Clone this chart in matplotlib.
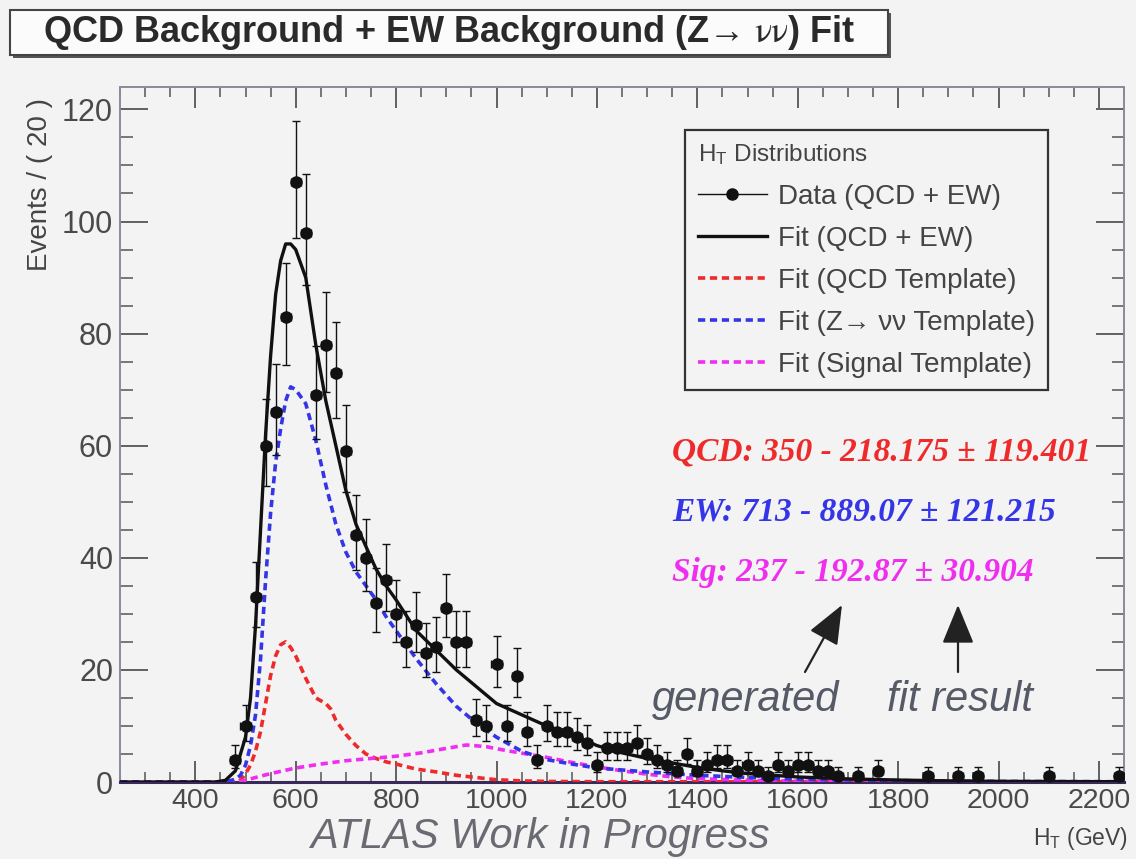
import numpy as np
import matplotlib
matplotlib.use("Agg")
import matplotlib.pyplot as plt
from matplotlib.lines import Line2D
from matplotlib.patches import Rectangle, FancyArrowPatch
from matplotlib.ticker import MultipleLocator

plt.rcParams['font.family'] = ['Liberation Sans', 'DejaVu Sans']
plt.rcParams['mathtext.fontset'] = 'stix'

# ---------------- data ----------------
bin_centers = [480, 500, 520, 540, 560, 580, 600, 620, 640, 660, 680, 700, 720, 740,
               760, 780, 800, 820, 840, 860, 880, 900, 920, 940, 960, 980, 1000, 1020,
               1040, 1060, 1080, 1100, 1120, 1140, 1160, 1180, 1200, 1220, 1240, 1260,
               1280, 1300, 1320, 1340, 1360, 1380, 1400, 1420, 1440, 1460, 1480, 1500,
               1520, 1540, 1560, 1580, 1600, 1620, 1640, 1660, 1680, 1720, 1760, 1860,
               1920, 1960, 2100, 2240]
counts = [4, 10, 33, 60, 66, 83, 107, 98, 69, 78, 73, 59, 44, 40,
          32, 36, 30, 25, 28, 23, 24, 31, 25, 25, 11, 10, 21, 10,
          19, 9, 4, 10, 9, 9, 8, 7, 3, 6, 6, 6,
          7, 5, 4, 3, 2, 5, 2, 3, 4, 4, 2, 3,
          2, 1, 3, 2, 3, 3, 2, 2, 1, 1, 2, 1,
          1, 1, 1, 1]

fit_total_x = [250, 440, 460, 480, 500, 510, 520, 530, 540, 550, 560, 570, 580, 590, 600,
               620, 640, 660, 680, 700, 720, 740, 760, 780, 800, 840, 880, 920, 960, 1000,
               1050, 1100, 1150, 1200, 1250, 1300, 1350, 1400, 1450, 1500, 1600, 1700,
               1800, 1900, 2000, 2250]
fit_total_y = [0, 0, 0.3, 2, 8, 15, 28, 45, 62, 76, 87, 93, 96, 96, 95,
               90, 78, 68, 60, 52, 46, 42, 38, 35, 32.5, 27, 23.5, 20, 17, 14,
               12, 10, 8.5, 6.5, 5.2, 4.2, 3.4, 2.6, 2.0, 1.5, 0.9, 0.55,
               0.35, 0.2, 0.12, 0.05]

fit_ew_x = [250, 460, 480, 490, 500, 510, 520, 530, 540, 550, 560, 570, 580, 590, 600,
            620, 640, 660, 680, 700, 720, 740, 760, 780, 800, 840, 880, 920, 960, 1000,
            1050, 1100, 1150, 1200, 1300, 1400, 1500, 1600, 1800, 2000, 2250]
fit_ew_y = [0, 0, 0.5, 1.2, 3, 6.5, 12, 22, 36, 48, 57, 63, 68, 70.5, 70,
            67.5, 61, 53, 46, 41, 37.5, 35, 32.5, 29.5, 27, 22, 17.5, 13.5, 10.5, 8,
            5.5, 4, 3.2, 2.5, 1.8, 1.2, 0.8, 0.5, 0.25, 0.1, 0.05]

fit_qcd_x = [250, 480, 490, 500, 510, 520, 530, 540, 550, 560, 570, 580, 590, 600, 620,
             640, 660, 670, 680, 700, 720, 740, 760, 780, 800, 840, 880, 920, 960, 1000,
             1050, 1100, 1200, 2250]
fit_qcd_y = [0, 0, 0.3, 1.5, 3, 5.5, 9, 14, 19, 22.5, 24.5, 25, 24, 22.5, 18.5,
             15, 14, 13, 11, 8.5, 6.5, 5, 4.2, 3.6, 3.2, 2.3, 1.8, 1.2, 0.8, 0.4,
             0.2, 0.1, 0.05, 0]

fit_sig_x = [250, 480, 500, 520, 550, 600, 650, 700, 750, 800, 850, 900, 940, 980, 1020,
             1060, 1100, 1150, 1200, 1250, 1300, 1350, 1400, 1500, 1600, 1800, 2250]
fit_sig_y = [0, 0, 0.3, 0.8, 1.5, 2.5, 3.2, 3.8, 4.2, 4.6, 5.2, 6.0, 6.6, 6.3, 5.6,
             5.0, 4.4, 3.5, 2.7, 2.0, 1.4, 0.9, 0.6, 0.3, 0.15, 0.05, 0]

legend_labels = ["Data (QCD + EW)", "Fit (QCD + EW)", "Fit (QCD Template)",
                 "Fit (Z\u2192 \u03bd\u03bd Template)", "Fit (Signal Template)"]
results = [("QCD: 350 - 218.175 \u00b1 119.401", "#ee2a2a"),
           ("EW: 713 - 889.07 \u00b1 121.215", "#3535e8"),
           ("Sig: 237 - 192.87 \u00b1 30.904", "#f02ef0")]

# ---------------- figure ----------------
W, H = 1136, 859
fig = plt.figure(figsize=(W / 100, H / 100), dpi=100)
bg = '#f3f3f3'
fig.patch.set_facecolor(bg)

def fx(x):
    return x / W

def fy(y):
    return 1 - y / H

ax = fig.add_axes([fx(120), fy(782), fx(1124) - fx(120), fy(87) - fy(782)])
ax.set_facecolor(bg)
ax.set_xlim(250, 2250)
ax.set_ylim(0, 124)

red, blue, mag = '#ee2a2a', '#3535e8', '#f02ef0'
dash = (0, (2.0, 1.3))
ax.plot(fit_qcd_x, fit_qcd_y, color=red, lw=2.6, ls=dash, zorder=3)
ax.plot(fit_sig_x, fit_sig_y, color=mag, lw=2.6, ls=dash, zorder=3)
ax.plot(fit_ew_x, fit_ew_y, color=blue, lw=2.6, ls=dash, zorder=3)
ax.plot(fit_total_x, fit_total_y, color='#111111', lw=2.4, zorder=4)

n = np.array(counts, dtype=float)
err_hi = 0.5 + np.sqrt(n + 0.25)
err_lo = -0.5 + np.sqrt(n + 0.25)
ax.errorbar(bin_centers, counts, yerr=[err_lo, err_hi], xerr=10, fmt='o',
            color='#111111', ms=8, elinewidth=1.0, capsize=3, capthick=1.0, zorder=5)

# ticks
ax.xaxis.set_major_locator(MultipleLocator(200))
ax.xaxis.set_minor_locator(MultipleLocator(50))
ax.yaxis.set_major_locator(MultipleLocator(20))
ax.yaxis.set_minor_locator(MultipleLocator(5))
ax.tick_params(which='both', direction='in', top=True, right=True, color='#555555')
ax.tick_params(axis='y', which='major', length=20, width=1.3)
ax.tick_params(axis='y', which='minor', length=9, width=1.1)
ax.tick_params(axis='x', which='major', length=15, width=1.3)
ax.tick_params(axis='x', which='minor', length=7, width=1.1)
ax.tick_params(axis='both', which='major', labelcolor='#4a4a4a')
ax.tick_params(axis='y', which='major', labelsize=22, pad=5)
ax.tick_params(axis='x', which='major', labelsize=20.5, pad=4)
ax.set_xticks([400, 600, 800, 1000, 1200, 1400, 1600, 1800, 2000, 2200])
for s in ax.spines.values():
    s.set_color('#8a8a9a')
    s.set_linewidth(1.4)
ax.spines['bottom'].set_color('#3a2a5a')
ax.spines['bottom'].set_linewidth(2.2)

# legend
handles = [Line2D([], [], color='#111111', marker='o', ms=8, lw=1.0),
           Line2D([], [], color='#111111', lw=2.4),
           Line2D([], [], color=red, lw=2.6, ls=dash),
           Line2D([], [], color=blue, lw=2.6, ls=dash),
           Line2D([], [], color=mag, lw=2.6, ls=dash)]
leg = ax.legend(handles, legend_labels, title=r"$\mathregular{H_T}$ Distributions",
                loc='upper left', bbox_to_anchor=((685 - 120) / 1004, (782 - 130) / 695),
                fontsize=20, title_fontsize=17.5, frameon=True, fancybox=False,
                edgecolor='#333333', facecolor=bg, framealpha=1, handlelength=2.5,
                handletextpad=0.4, labelspacing=0.58, borderpad=0.45, alignment='left',
                borderaxespad=0)
leg.get_frame().set_linewidth(1.6)
for t in leg.get_texts():
    t.set_color('#444444')
leg.get_title().set_color('#444444')

# fit result texts
for i, (txt, col) in enumerate(results):
    fig.text(fx(672), fy(452 + 60 * i), txt, color=col, fontsize=24,
             family=['Liberation Serif', 'DejaVu Serif'], weight='bold', style='italic',
             ha='left', va='center')

fig.text(fx(652), fy(700), "generated", color='#555a66', fontsize=30, style='italic',
         ha='left', va='center')
fig.text(fx(887), fy(700), "fit result", color='#555a66', fontsize=30, style='italic',
         ha='left', va='center')
arrow_kw = dict(arrowstyle='-|>,head_length=1.1,head_width=0.45', color='#222222',
                lw=1.6, mutation_scale=22, shrinkA=0, shrinkB=0)
fig.add_artist(FancyArrowPatch((fx(805), fy(672)), (fx(842), fy(605)),
                               transform=fig.transFigure, **arrow_kw))
fig.add_artist(FancyArrowPatch((fx(958), fy(672)), (fx(958), fy(605)),
                               transform=fig.transFigure, **arrow_kw))

# axis labels
fig.text(fx(40), fy(98), "Events / ( 20 )", rotation=90, ha='center', va='top',
         fontsize=20, color='#444444')
fig.text(fx(1128), fy(838), r"$\mathregular{H_T}$ (GeV)", ha='right', va='center',
         fontsize=16.5, color='#444444')
fig.text(fx(540), fy(848), "ATLAS Work in Progress", ha='center', va='baseline',
         fontsize=30, style='italic', color='#6a6a72')

# title box
fig.add_artist(Rectangle((fx(13), fy(58)), fx(878) - fx(0), fy(10) - fy(55),
                         transform=fig.transFigure, facecolor='#555555', edgecolor='none'))
fig.add_artist(Rectangle((fx(10), fy(55)), fx(878) - fx(0), fy(10) - fy(55),
                         transform=fig.transFigure, facecolor='#fbfbfb', edgecolor='#444444',
                         lw=1.5))
fig.text(fx(449), fy(33), "QCD Background + EW Background (Z\u2192 $\\mathrm{\\nu\\nu}$) Fit",
         ha='center', va='center', fontsize=26, weight='bold', color='#2a2a2a')

fig.savefig("out.png", dpi=100, facecolor=bg)
